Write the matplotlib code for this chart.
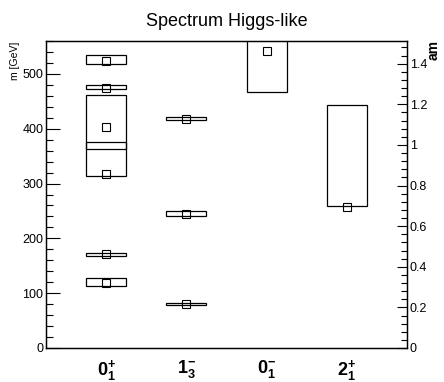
import matplotlib
matplotlib.use("Agg")
import matplotlib.pyplot as plt
from matplotlib.patches import Rectangle
from matplotlib.ticker import MultipleLocator, FixedLocator

plt.rcParams['font.family'] = ['Liberation Sans', 'DejaVu Sans']
plt.rcParams['mathtext.fontset'] = 'custom'
plt.rcParams['mathtext.rm'] = 'Liberation Sans:bold'
plt.rcParams['mathtext.bf'] = 'Liberation Sans:bold'
plt.rcParams['mathtext.it'] = 'Liberation Sans:bold'

# Data
categories = [r'$\mathbf{0^{+}_{1}}$', r'$\mathbf{1^{-}_{3}}$', r'$\mathbf{0^{-}_{1}}$', r'$\mathbf{2^{+}_{1}}$']
cat_pos = [0.75, 1.75, 2.75, 3.75]

box_cat = [0, 0, 0, 0, 0, 0, 1, 1, 1, 2, 3]
box_lo = [518, 473, 363, 314, 168, 113, 416, 240, 78, 467, 259]
box_hi = [535, 479, 462, 375, 174, 127, 421, 249, 82, 600, 443]

mark_cat = [0, 0, 0, 0, 0, 0, 1, 1, 1, 2, 3]
mark_m = [524, 475, 404, 317, 171, 119, 418, 244, 80, 541, 257]

m_ticks = [0, 100, 200, 300, 400, 500]
am_ticks = [0, 0.2, 0.4, 0.6, 0.8, 1.0, 1.2, 1.4]
am_labels = ['0', '0.2', '0.4', '0.6', '0.8', '1', '1.2', '1.4']

W, H = 444, 382
fig = plt.figure(figsize=(W / 100, H / 100), dpi=100)
ax = fig.add_axes([46 / W, 1 - 348 / H, (407 - 46) / W, (348 - 41) / H])
ax.set_xlim(0, 4.5)
ax.set_ylim(0, 560)

half = 0.25
for c, lo, hi in zip(box_cat, box_lo, box_hi):
    ax.add_patch(Rectangle((cat_pos[c] - half, lo), 2 * half, hi - lo,
                           fill=False, edgecolor='black', linewidth=0.9, zorder=2))

ax.plot([cat_pos[c] for c in mark_cat], mark_m, linestyle='none', marker='s',
        markersize=5.5, markerfacecolor='none', markeredgecolor='black',
        markeredgewidth=0.8, zorder=3)

for s in ax.spines.values():
    s.set_linewidth(0.9)

ax.set_xticks(cat_pos)
ax.set_xticklabels(categories, fontsize=13)
ax.tick_params(axis='x', length=0, pad=7)

ax.yaxis.set_major_locator(FixedLocator(m_ticks))
ax.yaxis.set_minor_locator(MultipleLocator(20))
ax.tick_params(axis='y', which='major', direction='in', length=10, width=0.8,
               labelsize=9, pad=2)
ax.tick_params(axis='y', which='minor', direction='in', length=5, width=0.8)

ax2 = ax.twinx()
ax2.set_ylim(0, 1.512)
ax2.yaxis.set_major_locator(FixedLocator(am_ticks))
ax2.set_yticklabels(am_labels)
ax2.yaxis.set_minor_locator(MultipleLocator(0.04))
ax2.tick_params(axis='y', which='major', direction='in', length=7, width=0.8,
                labelsize=9, pad=2)
ax2.tick_params(axis='y', which='minor', direction='in', length=4, width=0.8)
for s in ax2.spines.values():
    s.set_linewidth(0.9)

fig.text(227 / W, 1 - 21 / H, 'Spectrum Higgs-like', ha='center', va='center', fontsize=13)
fig.text(15 / W, 1 - 42 / H, 'm [GeV]', rotation=90, ha='center', va='top', fontsize=7.5)
fig.text(434 / W, 1 - 40 / H, 'am', rotation=90, ha='center', va='top', fontsize=10,
         fontweight='bold')

fig.savefig('out.png', dpi=100)
